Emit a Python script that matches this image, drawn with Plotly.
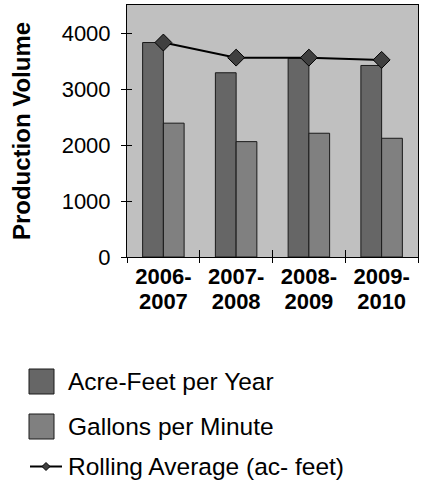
import plotly.graph_objects as go

# Production by fiscal period
periods = ["2006-2007", "2007-2008", "2008-2009", "2009-2010"]
acre_feet = [3830, 3290, 3550, 3420]
gallons_per_min = [2390, 2060, 2210, 2120]
rolling_avg = [3830, 3560, 3560, 3520]

series_names = ["Acre-Feet per Year", "Gallons per Minute", "Rolling Average (ac- feet)"]
y_ticks = [0, 1000, 2000, 3000, 4000]

FONT = "Liberation Sans, Arial, sans-serif"
AF_COLOR = "#666666"
GPM_COLOR = "#808080"
MARKER_COLOR = "#404040"

W, H = 426, 482
L, R, T, B = 127, 8, 5, 225
plot_w = W - L - R
plot_h = H - T - B


def px_x(px):
    return (px - L) / plot_w


def px_y(py):
    return (H - B - py) / plot_h


fig = go.Figure()
fig.add_trace(go.Bar(
    x=periods, y=acre_feet, name=series_names[0],
    marker=dict(color=AF_COLOR, line=dict(color="#1a1a1a", width=1)),
))
fig.add_trace(go.Bar(
    x=periods, y=gallons_per_min, name=series_names[1],
    marker=dict(color=GPM_COLOR, line=dict(color="#1a1a1a", width=1)),
))
fig.add_trace(go.Scatter(
    x=periods, y=rolling_avg, name=series_names[2], mode="lines+markers",
    line=dict(color="black", width=2),
    marker=dict(symbol="diamond", size=13, color=MARKER_COLOR,
                line=dict(color="black", width=1)),
))
# empty traces so the overlay axes (second label line, inner tick marks) get drawn
fig.add_trace(go.Scatter(x=[], y=[], xaxis="x2", yaxis="y", showlegend=False,
                         hoverinfo="skip"))
fig.add_trace(go.Scatter(x=[], y=[], xaxis="x", yaxis="y2", showlegend=False,
                         hoverinfo="skip"))

first_line = [p.split("-")[0] + "-" for p in periods]
second_line = [p.split("-")[1] for p in periods]

fig.update_layout(
    width=W, height=H,
    margin=dict(l=L, r=R, t=T, b=B),
    paper_bgcolor="white",
    plot_bgcolor="#c0c0c0",
    font=dict(family=FONT, color="black"),
    showlegend=False,
    barmode="group",
    bargap=0.43,
    bargroupgap=0,
    xaxis=dict(
        type="category", categoryorder="array", categoryarray=periods,
        tickmode="array", tickvals=periods, ticktext=first_line,
        tickson="boundaries", ticks="outside", ticklen=5, tickcolor="black",
        showline=True, linecolor="black", linewidth=1, mirror=True,
        showgrid=False, zeroline=False,
        tickfont=dict(size=22, weight="bold", family=FONT),
        ticklabelstandoff=0,
    ),
    xaxis2=dict(
        overlaying="x", anchor="y", side="bottom",
        range=[-0.5, len(periods) - 0.5],
        tickmode="array", tickvals=list(range(len(periods))), ticktext=second_line,
        ticks="", showline=False, showgrid=False, zeroline=False,
        tickfont=dict(size=22, weight="bold", family=FONT),
        ticklabelstandoff=29,
        minor=dict(tickvals=[i + 0.5 for i in range(len(periods))],
                   ticks="inside", ticklen=7, tickcolor="black", showgrid=False),
    ),
    yaxis=dict(
        range=[0, 4500], tickmode="array", tickvals=y_ticks,
        ticks="outside", ticklen=5, tickcolor="black",
        showline=True, linecolor="black", linewidth=1, mirror=True,
        showgrid=False, zeroline=False,
        tickfont=dict(size=22, family=FONT),
        ticklabelstandoff=6,
        title=dict(text="Production Volume",
                   font=dict(size=24, weight="bold", family=FONT), standoff=24),
    ),
    yaxis2=dict(
        overlaying="y", anchor="x", side="left",
        range=[0, 4500], tickmode="array", tickvals=y_ticks,
        ticks="inside", ticklen=5, tickcolor="black",
        showticklabels=False, showline=False, showgrid=False, zeroline=False,
    ),
)

# Legend drawn below the plot area
shapes = []
annotations = []
legend_rows = [381.5, 426.5, 466.5]
swatches = [AF_COLOR, GPM_COLOR]
for cy, color in zip(legend_rows[:2], swatches):
    shapes.append(dict(
        type="rect", xref="paper", yref="paper",
        x0=px_x(29), x1=px_x(54), y0=px_y(cy + 12.5), y1=px_y(cy - 12.5),
        fillcolor=color, line=dict(color="#1a1a1a", width=1),
    ))
cy = legend_rows[2]
shapes.append(dict(
    type="line", xref="paper", yref="paper",
    x0=px_x(30), x1=px_x(62), y0=px_y(cy), y1=px_y(cy),
    line=dict(color="black", width=2),
))
shapes.append(dict(
    type="path", xref="paper", yref="paper",
    path=(f"M {px_x(42)} {px_y(cy)} L {px_x(46)} {px_y(cy - 4)} "
          f"L {px_x(50)} {px_y(cy)} L {px_x(46)} {px_y(cy + 4)} Z"),
    fillcolor=MARKER_COLOR, line=dict(color="black", width=1),
))
for name, cy in zip(series_names, legend_rows):
    annotations.append(dict(
        text=name, xref="paper", yref="paper",
        x=px_x(66), y=px_y(cy), xanchor="left", yanchor="middle",
        showarrow=False, font=dict(size=24.5, family=FONT, color="black"),
    ))

fig.update_layout(shapes=shapes, annotations=annotations)

fig.write_html("out.html")
